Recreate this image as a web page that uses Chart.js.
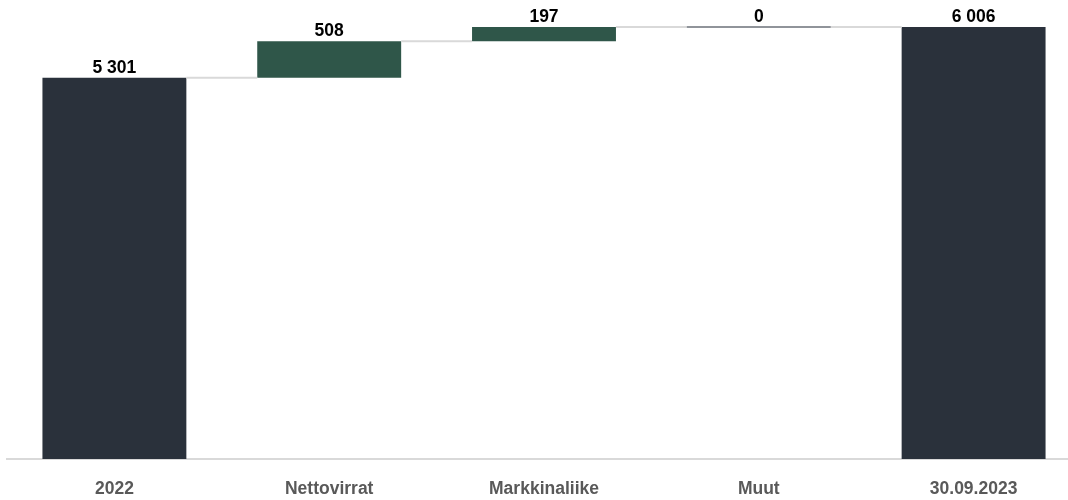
<!DOCTYPE html>
<html>
<head>
<meta charset="utf-8">
<script src="https://cdn.jsdelivr.net/npm/chart.js@4"></script>
<style>
  html, body { margin: 0; padding: 0; background: #fff; overflow: hidden; }
  #wrap { width: 1081px; height: 500px; position: relative; }
</style>
</head>
<body>
<div id="wrap"><canvas id="wfChart"></canvas></div>
<script>
const categories = ["2022", "Nettovirrat", "Markkinaliike", "Muut", "30.09.2023"];
const values = [5301, 508, 197, 0, 6006];
const isTotal = [true, false, false, false, true];

const darkColor = "#2a313b";
const greenColor = "#2f5649";

// build floating ranges from the running total
let running = 0;
const ranges = [];
for (let i = 0; i < values.length; i++) {
    if (isTotal[i]) {
        ranges.push([0, values[i]]);
        running = values[i];
    } else {
        ranges.push([running, running + values[i]]);
        running += values[i];
    }
}

function fmt(n) {
    return String(n).replace(/\B(?=(\d{3})+(?!\d))/g, " ");
}

const waterfallExtras = {
    id: "waterfallExtras",
    afterDatasetsDraw(chart) {
        const ctx = chart.ctx;
        const meta = chart.getDatasetMeta(0);
        const y = chart.scales.y;
        ctx.save();
        // connectors
        ctx.strokeStyle = "#d9d9d9";
        ctx.lineWidth = 2;
        for (let i = 0; i < meta.data.length - 1; i++) {
            const a = meta.data[i], b = meta.data[i + 1];
            const level = y.getPixelForValue(ranges[i][1]);
            ctx.beginPath();
            ctx.moveTo(a.x + a.width / 2, level);
            ctx.lineTo(b.x - b.width / 2, level);
            ctx.stroke();
        }
        // zero-height bars
        ctx.strokeStyle = "#6b7078";
        ctx.lineWidth = 1.5;
        meta.data.forEach((bar, i) => {
            if (values[i] === 0) {
                const level = y.getPixelForValue(ranges[i][1]);
                ctx.beginPath();
                ctx.moveTo(bar.x - bar.width / 2, level);
                ctx.lineTo(bar.x + bar.width / 2, level);
                ctx.stroke();
            }
        });
        // value labels
        ctx.fillStyle = "#000";
        ctx.font = "bold 17.5px 'Liberation Sans', Arial, sans-serif";
        ctx.textAlign = "center";
        ctx.textBaseline = "bottom";
        meta.data.forEach((bar, i) => {
            const top = y.getPixelForValue(Math.max(ranges[i][0], ranges[i][1]));
            ctx.fillText(fmt(values[i]), bar.x, top - 1);
        });
        ctx.restore();
    }
};

new Chart(document.getElementById("wfChart"), {
    type: "bar",
    data: {
        labels: categories,
        datasets: [{
            data: ranges,
            backgroundColor: isTotal.map(t => t ? darkColor : greenColor),
            borderWidth: 0,
            borderSkipped: false,
            barPercentage: 0.67,
            categoryPercentage: 1
        }]
    },
    options: {
        responsive: true,
        maintainAspectRatio: false,
        animation: false,
        layout: { padding: { left: 7, right: 0, top: 0, bottom: 0 } },
        plugins: {
            legend: { display: false },
            tooltip: { enabled: false }
        },
        scales: {
            x: {
                afterFit(scale) { scale.height = 41; },
                grid: { display: false, drawTicks: false },
                border: { display: true, color: "#d9d9d9", width: 2 },
                ticks: {
                    color: "#595959",
                    padding: 20,
                    font: { family: "'Liberation Sans', Arial, sans-serif", size: 17.5, weight: "bold" }
                }
            },
            y: {
                display: false,
                min: 0,
                max: 6382
            }
        }
    },
    plugins: [waterfallExtras]
});
</script>
</body>
</html>
